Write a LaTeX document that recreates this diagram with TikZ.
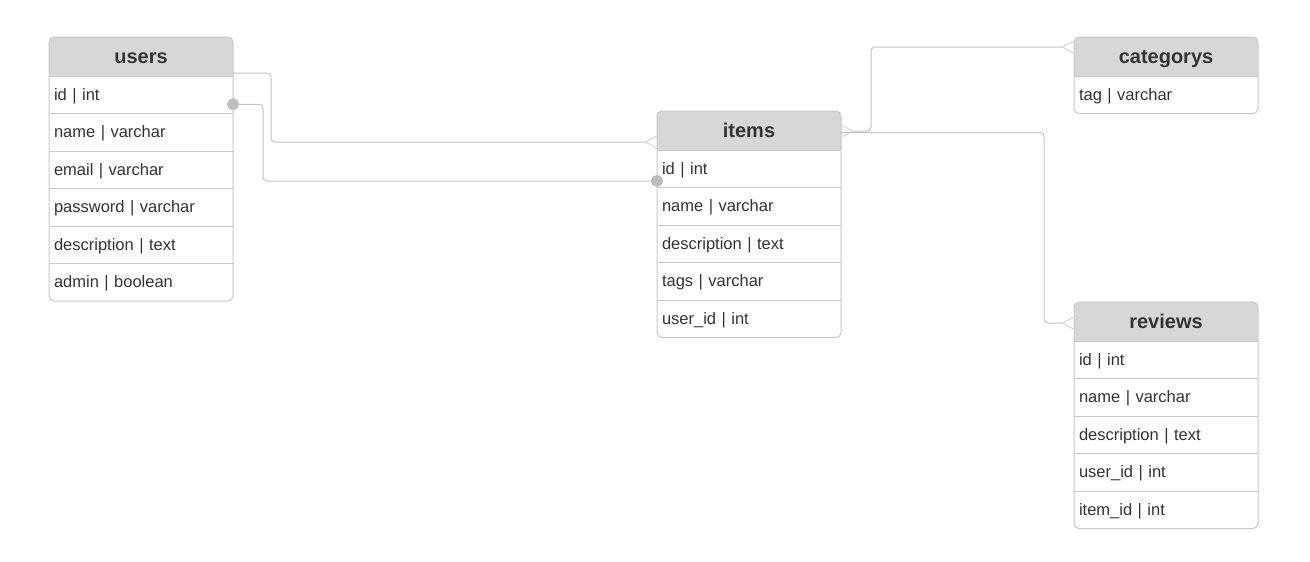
\documentclass[tikz,border=0pt]{standalone}
\usepackage{fontspec}
\setmainfont{Liberation Sans}
\usetikzlibrary{arrows.meta,positioning,fit,backgrounds}

\definecolor{headgray}{HTML}{D7D7D7}
\definecolor{linegray}{HTML}{C8C8C8}
\definecolor{relgray}{HTML}{C4C4C4}
\definecolor{footgray}{HTML}{D8D8D8}
\definecolor{dotgray}{HTML}{BDBDBD}
\definecolor{textgray}{HTML}{333333}

\tikzset{
  head/.style={minimum width=184pt, minimum height=39pt, inner sep=0pt, outer sep=0pt,
               text height=14.5pt, text depth=0.5pt, text=textgray,
               font=\bfseries\fontsize{20pt}{24pt}\selectfont},
  field/.style={minimum width=184pt, minimum height=37.5pt, inner xsep=5pt,
                inner ysep=0pt, outer sep=0pt, text width=174pt, align=left,
                text height=12pt, text depth=1.5pt, text=textgray,
                font=\fontsize{16.5pt}{20pt}\selectfont,
                append after command={(\tikzlastnode.north west)
                  edge[draw=linegray, line width=1pt] (\tikzlastnode.north east)}},
  tablebox/.style={draw=linegray, line width=1pt, fill=white, rounded corners=5pt,
                   inner sep=0pt,
                   path picture={\fill[headgray, sharp corners]
                     (path picture bounding box.north west) rectangle
                     ([yshift=-39pt]path picture bounding box.north east);}},
  rel/.style={draw=relgray, line width=1pt, rounded corners=4pt},
  foot/.tip={Straight Barb[reversed, length=11pt, width=12pt, color=footgray, line width=1pt]},
  ball/.tip={Circle[length=12pt, color=dotgray]}
}

\begin{document}
\begin{tikzpicture}[x=1pt,y=-1pt]
  \useasboundingbox (0,0) rectangle (1310,562);

  % users
  \node[head]  (users)          at (141,56.5)                {users};
  \node[field] (users-id)       [below=0pt of users]          {id | int};
  \node[field] (users-name)     [below=0pt of users-id]       {name | varchar};
  \node[field] (users-email)    [below=0pt of users-name]     {email | varchar};
  \node[field] (users-password) [below=0pt of users-email]    {password | varchar};
  \node[field] (users-desc)     [below=0pt of users-password] {description | text};
  \node[field] (users-admin)    [below=0pt of users-desc]     {admin | boolean};

  % items
  \node[head]  (items)          at (749,130.5)                {items};
  \node[field] (items-id)       [below=0pt of items]          {id | int};
  \node[field] (items-name)     [below=0pt of items-id]       {name | varchar};
  \node[field] (items-desc)     [below=0pt of items-name]     {description | text};
  \node[field] (items-tags)     [below=0pt of items-desc]     {tags | varchar};
  \node[field] (items-user)     [below=0pt of items-tags]     {user\_id | int};

  % categorys
  \node[head]  (categorys)      at (1166,56.5)                {categorys};
  \node[field] (categorys-tag)  [below=0pt of categorys]      {tag | varchar};

  % reviews
  \node[head]  (reviews)        at (1166,321.5)               {reviews};
  \node[field] (reviews-id)     [below=0pt of reviews]        {id | int};
  \node[field] (reviews-name)   [below=0pt of reviews-id]     {name | varchar};
  \node[field] (reviews-desc)   [below=0pt of reviews-name]   {description | text};
  \node[field] (reviews-user)   [below=0pt of reviews-desc]   {user\_id | int};
  \node[field] (reviews-item)   [below=0pt of reviews-user]   {item\_id | int};

  \begin{scope}[on background layer]
    \node[tablebox, fit=(users)(users-admin)]         {};
    \node[tablebox, fit=(items)(items-user)]          {};
    \node[tablebox, fit=(categorys)(categorys-tag)]   {};
    \node[tablebox, fit=(reviews)(reviews-item)]      {};
  \end{scope}

  % relations
  \draw[rel, -foot] ([yshift=-16.5pt]users.east) -- ++(38,0)
        |- ([yshift=-11.5pt]items.west);
  \draw[rel, ball-ball, shorten <=-6pt, shorten >=-6pt]
        ([yshift=-9.5pt]users-id.east) -- ++(30,0) |- ([yshift=-12.25pt]items-id.west);
  \draw[rel, foot-foot] ([yshift=-0.5pt]items.east) -- ++(30,0)
        |- ([yshift=9.5pt]categorys.west);
  \draw[rel, -foot] ([yshift=-2pt]items.east) -- ++(203,0)
        |- ([yshift=-1.5pt]reviews.west);
\end{tikzpicture}
\end{document}
